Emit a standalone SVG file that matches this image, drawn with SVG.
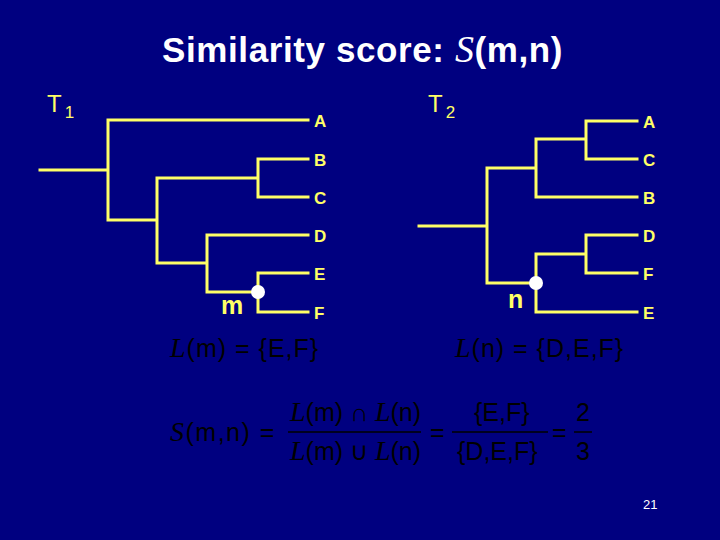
<svg xmlns="http://www.w3.org/2000/svg" width="720" height="540" viewBox="0 0 720 540">
<style>
.e{stroke:#FFFF66;stroke-width:3;fill:none;stroke-linecap:square}
.lab{font-family:"Liberation Sans",Arial,sans-serif;font-weight:bold;font-size:17px;fill:#FFFF66}
.tn{font-family:"Liberation Sans",Arial,sans-serif;font-size:24px;fill:#FFFF66}
.nl{font-family:"Liberation Sans",Arial,sans-serif;font-weight:bold;font-size:25px;fill:#FFFF66}
.dot{fill:#FFFFFF}
.f{font-family:"Liberation Sans",Arial,sans-serif;font-size:25px;fill:#000000}
.it{font-family:"Liberation Serif","Times New Roman",serif;font-style:italic}
.bar{stroke:#000000;stroke-width:1.5}
</style>
<rect width="720" height="540" fill="#000080"/>
<text x="162" y="62" font-family="Liberation Sans,Arial,sans-serif" font-weight="bold" font-size="35" letter-spacing="0.6" fill="#FFFFFF">Similarity score: <tspan font-family="Liberation Serif,Times New Roman,serif" font-style="italic" font-weight="normal" font-size="38">S</tspan>(m,n)</text>
<g id="connectors">
<path class="e" d="M40 170H108M108 120V220M108 120H308M108 220H157M157 178V263M157 178H258M258 159V197M258 159H308M258 197H308M157 263H207M207 235V292M207 235H308M207 292H258M258 273V312M258 273H308M258 312H308"/>
<path class="e" d="M419 226H487M487 168V283M487 168H536M536 139V197M536 139H586M586 121V159M586 121H637M586 159H637M536 197H637M487 283H536M536 254V312M536 254H586M586 235V273M586 235H637M586 273H637M536 312H637"/>
</g>
<g id="t1-title"><text class="tn" x="47" y="112">T<tspan font-size="17" dx="3" dy="6">1</tspan></text></g>
<g id="t2-title"><text class="tn" x="428" y="112">T<tspan font-size="17" dx="3" dy="6">2</tspan></text></g>
<g id="t1-A"><text class="lab" x="314" y="127">A</text></g>
<g id="t1-B"><text class="lab" x="314" y="166">B</text></g>
<g id="t1-C"><text class="lab" x="314" y="204">C</text></g>
<g id="t1-D"><text class="lab" x="314" y="242">D</text></g>
<g id="t1-E"><text class="lab" x="314" y="280">E</text></g>
<g id="t1-F"><text class="lab" x="314" y="319">F</text></g>
<g id="t2-A"><text class="lab" x="643" y="128">A</text></g>
<g id="t2-C"><text class="lab" x="643" y="166">C</text></g>
<g id="t2-B"><text class="lab" x="643" y="204">B</text></g>
<g id="t2-D"><text class="lab" x="643" y="242">D</text></g>
<g id="t2-F"><text class="lab" x="643" y="280">F</text></g>
<g id="t2-E"><text class="lab" x="643" y="319">E</text></g>
<g id="node-m"><circle class="dot" cx="258" cy="292" r="7"/><text class="nl" x="221" y="314">m</text></g>
<g id="node-n"><circle class="dot" cx="536" cy="283" r="7"/><text class="nl" x="508" y="308">n</text></g>
<g id="formula-Lm"><text class="f" x="170" y="357" letter-spacing="1"><tspan class="it" font-size="28">L</tspan>(m) = {E,F}</text></g>
<g id="formula-Ln"><text class="f" x="455" y="357" letter-spacing="1"><tspan class="it" font-size="28">L</tspan>(n) = {D,E,F}</text></g>
<g id="formula-S">
<text class="f" x="170" y="441" letter-spacing="1.5"><tspan class="it" font-size="28">S</tspan>(m,n) =</text>
<text class="f" x="290" y="421"><tspan class="it" font-size="28">L</tspan>(m) ∩ <tspan class="it" font-size="28">L</tspan>(n)</text>
<line class="bar" x1="288" y1="432" x2="421" y2="432"/>
<text class="f" x="290" y="460"><tspan class="it" font-size="28">L</tspan>(m) ∪ <tspan class="it" font-size="28">L</tspan>(n)</text>
<text class="f" x="430" y="441">=</text>
<text class="f" x="474" y="421">{E,F}</text>
<line class="bar" x1="452" y1="432" x2="548" y2="432"/>
<text class="f" x="457" y="460">{D,E,F}</text>
<text class="f" x="552" y="441">=</text>
<text class="f" x="576" y="421">2</text>
<line class="bar" x1="574" y1="432" x2="592" y2="432"/>
<text class="f" x="576" y="460">3</text>
</g>
<text x="643" y="509" font-family="Liberation Sans,Arial,sans-serif" font-size="13" fill="#FFFFFF">21</text>
</svg>
